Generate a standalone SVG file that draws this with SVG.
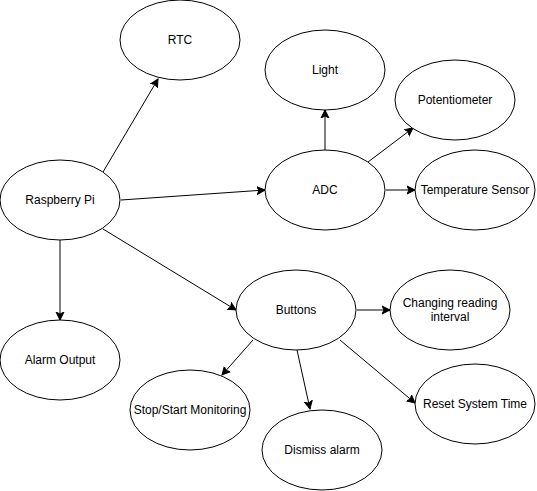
<svg xmlns="http://www.w3.org/2000/svg" width="537" height="491" viewBox="0 0 537 491">
<style>
.n ellipse{fill:#fff;stroke:#000;stroke-width:1}
.n text{font-family:"Liberation Sans",Arial,Helvetica,sans-serif;font-size:12px;fill:#000;text-anchor:middle;dominant-baseline:central}
.e line{stroke:#000;stroke-width:1;fill:none;marker-end:url(#arr)}
</style>
<defs>
<marker id="arr" markerUnits="userSpaceOnUse" markerWidth="10" markerHeight="10" refX="8" refY="4" orient="auto" viewBox="0 0 10 8">
<path d="M0,0 L8,4 L0,8 L2,4 Z" fill="#000" stroke="#000" stroke-width="1"/>
</marker>
</defs>
<rect width="537" height="491" fill="#fff"/>
<g class="e" id="connectors">
<line x1="103" y1="172" x2="158" y2="79"/>
<line x1="121" y1="200" x2="265" y2="190"/>
<line x1="60" y1="240" x2="60" y2="320"/>
<line x1="103" y1="229" x2="236" y2="310"/>
<line x1="325" y1="150" x2="325" y2="110"/>
<line x1="368" y1="162" x2="413" y2="128"/>
<line x1="386" y1="190" x2="415" y2="190"/>
<line x1="357" y1="310" x2="390" y2="310"/>
<line x1="253" y1="340" x2="222" y2="375"/>
<line x1="297" y1="350" x2="310" y2="409"/>
<line x1="340" y1="340" x2="415" y2="403"/>
</g>
<g class="n" id="rtc"><ellipse cx="180" cy="40" rx="60" ry="40"/><text x="180" y="40">RTC</text></g>
<g class="n" id="pi"><ellipse cx="60" cy="200" rx="60" ry="40"/><text x="60" y="200">Raspberry Pi</text></g>
<g class="n" id="light"><ellipse cx="325" cy="70" rx="60" ry="40"/><text x="325" y="70">Light</text></g>
<g class="n" id="pot"><ellipse cx="455" cy="100" rx="60" ry="40"/><text x="455" y="100">Potentiometer</text></g>
<g class="n" id="adc"><ellipse cx="325" cy="190" rx="60" ry="40"/><text x="325" y="190">ADC</text></g>
<g class="n" id="temp"><ellipse cx="475" cy="190" rx="60" ry="40"/><text x="475" y="190">Temperature Sensor</text></g>
<g class="n" id="alarm"><ellipse cx="60" cy="360" rx="60" ry="40"/><text x="60" y="360">Alarm Output</text></g>
<g class="n" id="buttons"><ellipse cx="296" cy="310" rx="60" ry="40"/><text x="296" y="310">Buttons</text></g>
<g class="n" id="changing"><ellipse cx="450" cy="310" rx="60" ry="40"/><text x="450" y="303">Changing reading</text><text x="450" y="317">interval</text></g>
<g class="n" id="stopstart"><ellipse cx="190" cy="410" rx="60" ry="40"/><text x="190" y="410">Stop/Start Monitoring</text></g>
<g class="n" id="dismiss"><ellipse cx="322" cy="450" rx="60" ry="40"/><text x="322" y="450">Dismiss alarm</text></g>
<g class="n" id="reset"><ellipse cx="475" cy="404" rx="60" ry="40"/><text x="475" y="404">Reset System Time</text></g>
</svg>
